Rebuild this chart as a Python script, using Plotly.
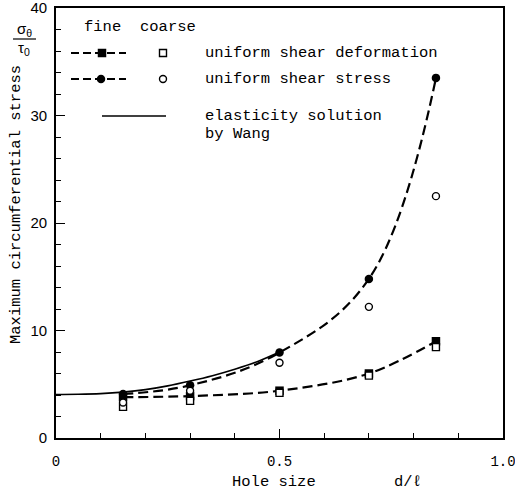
import plotly.graph_objects as go

# ---- data ----
x_pts = [0.15, 0.3, 0.5, 0.7, 0.85]
usd_fine = [3.8, 3.9, 4.4, 6.0, 9.0]
usd_coarse = [2.9, 3.45, 4.2, 5.8, 8.45]
uss_fine = [4.1, 4.9, 7.95, 14.8, 33.5]
uss_coarse = [3.3, 4.4, 7.0, 12.2, 22.5]
wang_x = [0, 0.05, 0.1, 0.15, 0.2, 0.25, 0.3, 0.35, 0.4, 0.45, 0.5]
wang_y = [4.05, 4.07, 4.13, 4.27, 4.5, 4.85, 5.3, 5.8, 6.4, 7.1, 8.0]
x_ticks = [0, 0.5, 1.0]
x_ticktext = ["0", "0.5", "1.0"]
y_ticks = [0, 10, 20, 30, 40]

MONO = "Liberation Mono"
SANS = "Liberation Sans"
BLK = "black"
DASH = "10px,5px"

# plot area in pixels
L, R, T, B = 56, 503, 8, 438
W, H = 515, 492


def PX(x):
    return (x - L) / (R - L)


def PY(y):
    return (B - y) / (B - T)


fig = go.Figure()

# fitted dashed curves (through fine-mesh points)
fig.add_trace(go.Scatter(x=x_pts, y=usd_fine, mode="lines",
                         line=dict(color=BLK, width=2.2, dash=DASH, shape="spline"),
                         showlegend=False, hoverinfo="skip"))
fig.add_trace(go.Scatter(x=x_pts, y=uss_fine, mode="lines",
                         line=dict(color=BLK, width=2.2, dash=DASH, shape="spline",
                                   smoothing=1.1),
                         showlegend=False, hoverinfo="skip"))
# elasticity solution
fig.add_trace(go.Scatter(x=wang_x, y=wang_y, mode="lines",
                         line=dict(color=BLK, width=1.6, shape="spline"),
                         showlegend=False, hoverinfo="skip"))
# markers
fig.add_trace(go.Scatter(x=x_pts, y=usd_fine, mode="markers",
                         marker=dict(symbol="square", size=8.5, color=BLK),
                         showlegend=False))
fig.add_trace(go.Scatter(x=x_pts, y=uss_fine, mode="markers",
                         marker=dict(symbol="circle", size=8.5, color=BLK),
                         showlegend=False))
fig.add_trace(go.Scatter(x=x_pts, y=usd_coarse, mode="markers",
                         marker=dict(symbol="square", size=7, color="white",
                                     line=dict(color=BLK, width=1.4)),
                         showlegend=False))
fig.add_trace(go.Scatter(x=x_pts, y=uss_coarse, mode="markers",
                         marker=dict(symbol="circle", size=7, color="white",
                                     line=dict(color=BLK, width=1.4)),
                         showlegend=False))

# ---- legend drawn on an overlay axis in pixel units ----
leg_rows = [53, 79, 116]
fig.add_trace(go.Scatter(x=[71, 126], y=[leg_rows[0]] * 2, mode="lines",
                         line=dict(color=BLK, width=2, dash="8px,4px"),
                         xaxis="x2", yaxis="y2", showlegend=False))
fig.add_trace(go.Scatter(x=[71, 126], y=[leg_rows[1]] * 2, mode="lines",
                         line=dict(color=BLK, width=2, dash="8px,4px"),
                         xaxis="x2", yaxis="y2", showlegend=False))
fig.add_trace(go.Scatter(x=[102, 166], y=[leg_rows[2]] * 2, mode="lines",
                         line=dict(color=BLK, width=1.6),
                         xaxis="x2", yaxis="y2", showlegend=False))
fig.add_trace(go.Scatter(x=[102], y=[leg_rows[0]], mode="markers",
                         marker=dict(symbol="square", size=8.5, color=BLK),
                         xaxis="x2", yaxis="y2", showlegend=False))
fig.add_trace(go.Scatter(x=[101], y=[leg_rows[1]], mode="markers",
                         marker=dict(symbol="circle", size=8.5, color=BLK),
                         xaxis="x2", yaxis="y2", showlegend=False))
fig.add_trace(go.Scatter(x=[163], y=[leg_rows[0]], mode="markers",
                         marker=dict(symbol="square", size=7, color="white",
                                     line=dict(color=BLK, width=1.4)),
                         xaxis="x2", yaxis="y2", showlegend=False))
fig.add_trace(go.Scatter(x=[163], y=[leg_rows[1]], mode="markers",
                         marker=dict(symbol="circle", size=7, color="white",
                                     line=dict(color=BLK, width=1.4)),
                         xaxis="x2", yaxis="y2", showlegend=False))

tf = dict(family=MONO, size=15.5, color=BLK)
ann = []


def txt(x, y, s, font=tf, xanchor="left", angle=0):
    ann.append(dict(x=PX(x), y=PY(y), xref="paper", yref="paper", text=s,
                    showarrow=False, xanchor=xanchor, yanchor="middle",
                    font=font, textangle=angle))


txt(82, 27, "fine")
txt(138, 27, "coarse")
txt(203, 53, "uniform shear deformation")
txt(203, 79, "uniform shear stress")
txt(203, 116, "elasticity solution")
txt(203, 134, "by Wang")
txt(230, 482, "Hole size")
txt(392, 482, "d/ℓ")
txt(16, 205, "Maximum circumferential stress", xanchor="center", angle=-90)
sf = dict(family=SANS, size=15, color=BLK)
txt(24, 30, "σ<sub>θ</sub>", font=sf, xanchor="center")
txt(24, 48, "τ<sub>0</sub>", font=sf, xanchor="center")

fig.update_layout(
    width=W, height=H,
    margin=dict(l=L, r=W - R, t=T, b=H - B, pad=0, autoexpand=False),
    paper_bgcolor="white", plot_bgcolor="white",
    showlegend=False,
    annotations=ann,
    shapes=[dict(type="line", xref="paper", yref="paper",
                 x0=PX(13), x1=PX(36), y0=PY(39), y1=PY(39),
                 line=dict(color=BLK, width=1.2))],
    xaxis=dict(range=[0, 1.0], tickvals=x_ticks, ticktext=x_ticktext,
               automargin=False, ticklabeloverflow="allow",
               ticks="inside", ticklen=9, tickwidth=1.3, tickcolor=BLK,
               minor=dict(dtick=0.1, ticks="inside", ticklen=5, tickwidth=1.3,
                          tickcolor=BLK, showgrid=False),
               showline=True, linecolor=BLK, linewidth=1.6, mirror=True,
               showgrid=False, zeroline=False,
               tickfont=dict(family=MONO, size=14, color=BLK),
               ticklabelstandoff=9),
    yaxis=dict(range=[0, 40], tickvals=y_ticks,
               automargin=False, ticklabeloverflow="allow",
               ticks="inside", ticklen=9, tickwidth=1.3, tickcolor=BLK,
               minor=dict(dtick=2, ticks="inside", ticklen=5, tickwidth=1.3,
                          tickcolor=BLK, showgrid=False),
               showline=True, linecolor=BLK, linewidth=1.6, mirror=True,
               showgrid=False, zeroline=False,
               tickfont=dict(family=SANS, size=15, color=BLK),
               ticklabelstandoff=4),
    xaxis2=dict(range=[L, R], overlaying="x", visible=False, anchor="y2",
                automargin=False),
    yaxis2=dict(range=[B, T], overlaying="y", visible=False, anchor="x2",
                automargin=False),
)

fig.write_html("out.html")
